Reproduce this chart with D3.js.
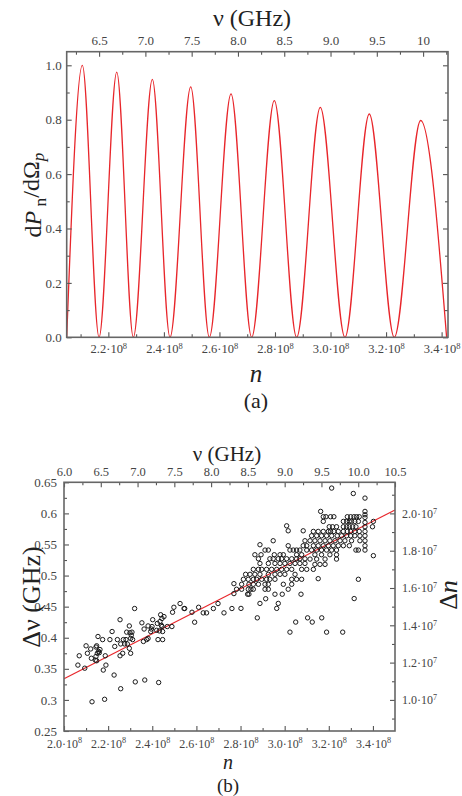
<!DOCTYPE html>
<html>
<head>
<meta charset="utf-8">
<script src="https://cdn.jsdelivr.net/npm/d3@7"></script>
<style>
  body { margin: 0; background: #fff; }
  svg { display: block; font-family: "Liberation Serif", "DejaVu Serif", serif; }
  .tick text { fill: #444; font-family: "Liberation Serif", "DejaVu Serif", serif; }
</style>
</head>
<body>
<svg id="chart" width="462" height="796"></svg>
<script>
// ---- panel (a): zeros and maxima of dP_n/dΩp, n in units of 1e8 ----
const zerosN = [2.050, 2.1665, 2.290, 2.422, 2.5636, 2.716, 2.878, 3.052, 3.2296, 3.418]
const peaksN = [2.1064, 2.2302, 2.3584, 2.4966, 2.6417, 2.7976, 2.9631, 3.1395, 3.3245]
const peaksP = [1.0, 0.975, 0.948, 0.921, 0.895, 0.870, 0.845, 0.821, 0.797]

const nMajorA = [2.2, 2.4, 2.6, 2.8, 3.0, 3.2, 3.4]
const nMinorA = [2.1, 2.3, 2.5, 2.7, 2.9, 3.1, 3.3]
const pMajor = [0, 0.2, 0.4, 0.6, 0.8, 1.0]
const pMinor = [0.1, 0.3, 0.5, 0.7, 0.9]
const nuMajorA = [6.5, 7.0, 7.5, 8.0, 8.5, 9.0, 9.5, 10.0]
const nuMinorA = [6.25, 6.75, 7.25, 7.75, 8.25, 8.75, 9.25, 9.75, 10.25]

// ---- panel (b): [n (1e8), Δν (GHz)] ----
const lowPts = [
  [2.063,0.356],[2.069,0.371],[2.094,0.351],[2.100,0.387],[2.106,0.375],[2.121,0.382],[2.124,0.367],
  [2.127,0.297],[2.145,0.385],[2.148,0.387],[2.145,0.370],[2.142,0.364],[2.148,0.363],[2.151,0.375],
  [2.154,0.402],[2.157,0.378],[2.163,0.381],[2.160,0.376],[2.175,0.397],[2.178,0.348],[2.184,0.301],
  [2.187,0.371],[2.190,0.356],[2.208,0.397],[2.218,0.410],[2.227,0.340],[2.230,0.386],[2.242,0.397],
  [2.254,0.429],[2.254,0.371],[2.257,0.390],[2.257,0.318],[2.269,0.397],[2.266,0.375],[2.275,0.390],
  [2.281,0.397],[2.284,0.409],[2.287,0.390],[2.296,0.419],[2.296,0.383],[2.299,0.408],[2.302,0.375],
  [2.302,0.399],[2.305,0.404],[2.308,0.409],[2.311,0.397],[2.320,0.447],[2.323,0.329],[2.353,0.424],
  [2.360,0.394],[2.363,0.414],[2.366,0.332],[2.375,0.397],[2.381,0.419],[2.381,0.399],[2.393,0.410],
  [2.396,0.414],[2.399,0.418],[2.402,0.429],[2.420,0.412],[2.423,0.423],[2.426,0.397],[2.429,0.328],
  [2.432,0.411],[2.435,0.426],[2.438,0.437],[2.441,0.420],[2.444,0.418],[2.444,0.431],[2.447,0.410],
  [2.447,0.397],[2.453,0.434],[2.468,0.418],[2.489,0.418],[2.492,0.441],[2.498,0.449],[2.526,0.455],
  [2.544,0.447],[2.547,0.447],[2.580,0.441],[2.592,0.425],[2.610,0.449],[2.631,0.440],[2.646,0.440],
  [2.677,0.447],[2.698,0.455],[2.725,0.440],[2.761,0.447],[2.770,0.487],[2.770,0.471]
]
const clusterPts = [
  [2.881,0.527],[2.933,0.527],[2.948,0.527],[2.971,0.527],[2.986,0.527],[3.009,0.527],[3.032,0.527],
  [3.054,0.527],[3.069,0.527],[3.092,0.527],
  [2.888,0.5195],[2.926,0.5195],[2.956,0.5195],[2.979,0.5195],[3.001,0.5195],[3.024,0.5195],
  [3.047,0.5195],[3.069,0.5195],[3.092,0.5195],
  [2.858,0.510],[2.881,0.510],[2.896,0.510],[2.918,0.510],[2.941,0.510],[2.964,0.510],[2.986,0.510],
  [3.009,0.510],[3.032,0.510],[3.077,0.510],[3.100,0.510],
  [2.823,0.502],[2.843,0.502],[2.865,0.502],[2.888,0.502],[2.926,0.502],[2.956,0.502],[2.979,0.502],
  [3.001,0.502],[3.047,0.502],
  [2.813,0.494],[2.835,0.494],[2.858,0.494],[2.873,0.494],[2.896,0.494],[2.918,0.494],[2.933,0.494],
  [2.956,0.494],[3.032,0.494],[3.054,0.494],[3.077,0.494],
  [2.805,0.486],[2.838,0.486],[2.858,0.486],[2.881,0.486],[2.911,0.486],[2.926,0.486],[2.994,0.486],
  [3.032,0.486],
  [2.782,0.478],[2.805,0.478],[2.835,0.478],[2.847,0.478],[2.858,0.478],[2.911,0.478],[2.926,0.478],
  [3.016,0.478],
  [2.832,0.470],[2.838,0.470],[2.956,0.470],[2.989,0.470],[3.074,0.470],
  [3.009,0.580],[3.016,0.572],[3.084,0.572],[2.948,0.556],[3.092,0.556],[2.888,0.5496],
  [3.016,0.548],[3.084,0.548],[3.100,0.548],
  [2.911,0.541],[2.926,0.541],[3.024,0.541],[3.039,0.541],[3.054,0.541],[3.069,0.541],[3.100,0.541],
  [2.865,0.5335],[2.893,0.5335],[2.953,0.5335],[2.979,0.5335],[2.994,0.5335],[3.054,0.5335],[3.077,0.5335],
  [3.213,0.6407],[3.311,0.632],[3.163,0.6032],
  [3.364,0.6246],[3.364,0.6032],[3.364,0.5978],[3.364,0.5935],[3.364,0.5855],[3.364,0.5785],
  [3.364,0.571],[3.364,0.564],[3.364,0.556],[3.364,0.548],[3.364,0.541],
  [3.175,0.5946],[3.187,0.5946],[3.208,0.5946],[3.223,0.5946],[3.284,0.5946],[3.299,0.5946],
  [3.314,0.5946],[3.326,0.5946],[3.338,0.5946],
  [3.175,0.5871],[3.266,0.5871],[3.281,0.5871],[3.293,0.5871],[3.303,0.5871],[3.318,0.5871],
  [3.334,0.5871],[3.402,0.5871],
  [3.202,0.5785],[3.217,0.5785],[3.235,0.5785],[3.266,0.5785],[3.281,0.5785],[3.293,0.5785],
  [3.308,0.5785],[3.323,0.5785],[3.398,0.5785],
  [3.130,0.571],[3.152,0.571],[3.175,0.571],[3.198,0.571],[3.208,0.571],[3.223,0.571],[3.243,0.571],
  [3.266,0.571],[3.284,0.571],[3.299,0.571],[3.318,0.571],[3.338,0.571],
  [3.122,0.564],[3.145,0.564],[3.167,0.564],[3.190,0.564],[3.213,0.564],[3.238,0.564],[3.258,0.564],
  [3.281,0.564],[3.299,0.564],[3.318,0.564],[3.341,0.564],
  [3.115,0.556],[3.137,0.556],[3.160,0.556],[3.183,0.556],[3.205,0.556],[3.228,0.556],[3.251,0.556],
  [3.273,0.556],[3.303,0.556],[3.341,0.556],
  [3.130,0.548],[3.152,0.548],[3.175,0.548],[3.198,0.548],[3.220,0.548],[3.243,0.548],[3.266,0.548],
  [3.293,0.548],
  [3.122,0.541],[3.145,0.541],[3.167,0.541],[3.190,0.541],[3.213,0.541],[3.235,0.541],[3.323,0.541],
  [3.334,0.541],
  [3.137,0.5335],[3.167,0.5335],[3.205,0.5335],[3.235,0.5335],[3.402,0.532],
  [3.115,0.5265],[3.145,0.5265],[3.183,0.5265],[3.235,0.5265],
  [3.137,0.518],[3.160,0.518],[3.183,0.518],[3.130,0.510]
]
const outlierPts = [
  [2.914,0.4627],[2.888,0.4552],[2.971,0.4552],[2.802,0.4472],[2.964,0.4472],[2.876,0.432],
  [3.104,0.432],[3.050,0.4252],[3.125,0.4252],[3.024,0.409],
  [3.152,0.495],[3.334,0.494],[3.315,0.463],[3.168,0.432],[3.190,0.409],[3.263,0.409]
]
// straight-line fit drawn in red
const fitN = [2.0, 3.5]
const fitDnu = [0.334, 0.6055]

const nMajorB = [2.0, 2.2, 2.4, 2.6, 2.8, 3.0, 3.2, 3.4]
const nMinorB = [2.1, 2.3, 2.5, 2.7, 2.9, 3.1, 3.3]
const nuMajorB = [6.0, 6.5, 7.0, 7.5, 8.0, 8.5, 9.0, 9.5, 10.0, 10.5]
const nuMinorB = [6.25, 6.75, 7.25, 7.75, 8.25, 8.75, 9.25, 9.75, 10.25]
const dnuMajor = [0.25, 0.3, 0.35, 0.4, 0.45, 0.5, 0.55, 0.6, 0.65]
const dnuMinor = [0.275, 0.325, 0.375, 0.425, 0.475, 0.525, 0.575, 0.625]
const dnMajor = [1.0, 1.2, 1.4, 1.6, 1.8, 2.0]
const dnMinor = [0.9, 1.1, 1.3, 1.5, 1.7, 1.9, 2.1]

const svg = d3.select('#chart')
const frameColor = '#666'
const red = '#e8262b'

// draws inward ticks, major with labels, minor without
const ticks = (g, axisFn, scale, major, minor, fmt, fontSize, pad = 5) => {
  g.append('g').call(axisFn(scale).tickValues(minor).tickSize(-3).tickFormat(''))
  let maj = g.append('g').call(axisFn(scale).tickValues(major).tickSize(-5).tickPadding(pad).tickFormat(fmt))
  g.selectAll('.domain').remove()
  g.selectAll('g').attr('font-family', null).attr('font-size', null)
  g.selectAll('.tick line').attr('stroke', '#555').attr('stroke-width', 1.1)
  maj.selectAll('text').attr('font-size', fontSize)
  return maj
}

// turns "2.2" into "2.2·10^8"
const sciLabels = (sel, exp) => {
  sel.selectAll('.tick text').each(function (d) {
    let t = d3.select(this).text(null)
    t.append('tspan').text(d.toFixed(1) + '·10')
    t.append('tspan').attr('dy', '-0.5em').attr('font-size', '0.68em').text(exp)
  })
}

const frame = (x, y, w, h) => svg.append('rect')
  .attr('x', x).attr('y', y).attr('width', w).attr('height', h)
  .attr('fill', 'none').attr('stroke', frameColor).attr('stroke-width', 1.6)

/** panel (a) **/
{
  const L = 66.7, R = 448, T = 51.7, B = 337.3
  const x = d3.scaleLinear().domain([2.05, 3.423]).range([L, R])
  const y = d3.scaleLinear().domain([0, 1.05]).range([B, T])
  const nu = d3.scaleLinear().domain([2.05 * 3, 3.423 * 3]).range([L, R])

  const curvePts = []
  zerosN.forEach((z, i) => {
    curvePts.push([z, 0])
    if (i < peaksN.length) curvePts.push([peaksN[i], peaksP[i]])
  })

  svg.append('clipPath').attr('id', 'clipA').append('rect')
    .attr('x', L).attr('y', T).attr('width', R - L).attr('height', B - T)

  svg.append('path')
    .datum(curvePts)
    .attr('clip-path', 'url(#clipA)')
    .attr('fill', 'none').attr('stroke', red).attr('stroke-width', 1.3)
    .attr('d', d3.line().x(d => x(d[0])).y(d => y(d[1])).curve(d3.curveMonotoneX))

  let gb = ticks(svg.append('g').attr('transform', `translate(0,${B})`), d3.axisBottom, x, nMajorA, nMinorA, d => d, 12.5, 7)
  sciLabels(gb, '8')
  ticks(svg.append('g').attr('transform', `translate(${L},0)`), d3.axisLeft, y, pMajor, pMinor, d3.format('.1f'), 13)
  ticks(svg.append('g').attr('transform', `translate(${R},0)`), d3.axisRight, y, pMajor, pMinor, () => '', 12)
  ticks(svg.append('g').attr('transform', `translate(0,${T})`), d3.axisTop, nu, nuMajorA, nuMinorA,
    d => d === 10 ? '10' : d.toFixed(1), 13, 7)

  frame(L, T, R - L, B - T)

  svg.append('text').attr('x', 252).attr('y', 26).attr('text-anchor', 'middle')
    .attr('font-size', 24).attr('fill', '#222').text('ν (GHz)')

  let yl = svg.append('text').attr('transform', 'translate(41,195) rotate(-90)')
    .attr('text-anchor', 'middle').attr('font-size', 24).attr('fill', '#222')
  yl.append('tspan').text('d')
  yl.append('tspan').attr('font-style', 'italic').text('P')
  yl.append('tspan').attr('dy', '0.3em').attr('font-size', '0.72em').text(' n')
  yl.append('tspan').attr('dy', '-0.3em').text('/dΩ')
  yl.append('tspan').attr('dy', '0.3em').attr('font-size', '0.72em').attr('font-style', 'italic').text('p')

  svg.append('text').attr('x', 256).attr('y', 382).attr('text-anchor', 'middle')
    .attr('font-size', 25).attr('font-style', 'italic').attr('fill', '#222').text('n')
  svg.append('text').attr('x', 256).attr('y', 408).attr('text-anchor', 'middle')
    .attr('font-size', 22).attr('fill', '#222').text('(a)')
}

/** panel (b) **/
{
  const L = 64, R = 395, T = 482.3, B = 731
  const x = d3.scaleLinear().domain([2.0, 3.5]).range([L, R])
  const y = d3.scaleLinear().domain([0.25, 0.65]).range([B, T])
  const nu = d3.scaleLinear().domain([6.0, 10.5]).range([L, R])
  const dn = d3.scaleLinear().domain([0.25 / 0.3, 0.65 / 0.3]).range([B, T])

  svg.append('path')
    .datum(fitN.map((n, i) => [n, fitDnu[i]]))
    .attr('fill', 'none').attr('stroke', red).attr('stroke-width', 1.2)
    .attr('d', d3.line().x(d => x(d[0])).y(d => y(d[1])))

  svg.append('g').selectAll('circle')
    .data(lowPts.concat(clusterPts, outlierPts))
    .enter()
    .append('circle')
      .attr('cx', d => x(d[0]))
      .attr('cy', d => y(d[1]))
      .attr('r', 2.2)
      .attr('fill', 'none').attr('stroke', '#1a1a1a').attr('stroke-width', 1)

  let gb = ticks(svg.append('g').attr('transform', `translate(0,${B})`), d3.axisBottom, x, nMajorB, nMinorB, d => d, 12, 8)
  sciLabels(gb, '8')
  ticks(svg.append('g').attr('transform', `translate(${L},0)`), d3.axisLeft, y, dnuMajor, dnuMinor, d => String(d), 13, 7)
  let gr = ticks(svg.append('g').attr('transform', `translate(${R},0)`), d3.axisRight, dn, dnMajor, dnMinor, d => d, 12, 7)
  sciLabels(gr, '7')
  ticks(svg.append('g').attr('transform', `translate(0,${T})`), d3.axisTop, nu, nuMajorB, nuMinorB, d => d.toFixed(1), 12.5, 6)

  frame(L, T, R - L, B - T)

  svg.append('text').attr('x', 227).attr('y', 461).attr('text-anchor', 'middle')
    .attr('font-size', 21).attr('fill', '#222').text('ν (GHz)')
  svg.append('text').attr('transform', 'translate(40,597) rotate(-90)').attr('text-anchor', 'middle')
    .attr('font-size', 26).attr('fill', '#222').text('Δν (GHz)')
  let rl = svg.append('text').attr('transform', 'translate(457,595) rotate(-90)').attr('text-anchor', 'middle')
    .attr('font-size', 26).attr('fill', '#222')
  rl.append('tspan').text('Δ')
  rl.append('tspan').attr('font-style', 'italic').text('n')

  svg.append('text').attr('x', 228).attr('y', 769).attr('text-anchor', 'middle')
    .attr('font-size', 20).attr('font-style', 'italic').attr('fill', '#222').text('n')
  svg.append('text').attr('x', 228).attr('y', 792).attr('text-anchor', 'middle')
    .attr('font-size', 19).attr('fill', '#222').text('(b)')
}
</script>
</body>
</html>
